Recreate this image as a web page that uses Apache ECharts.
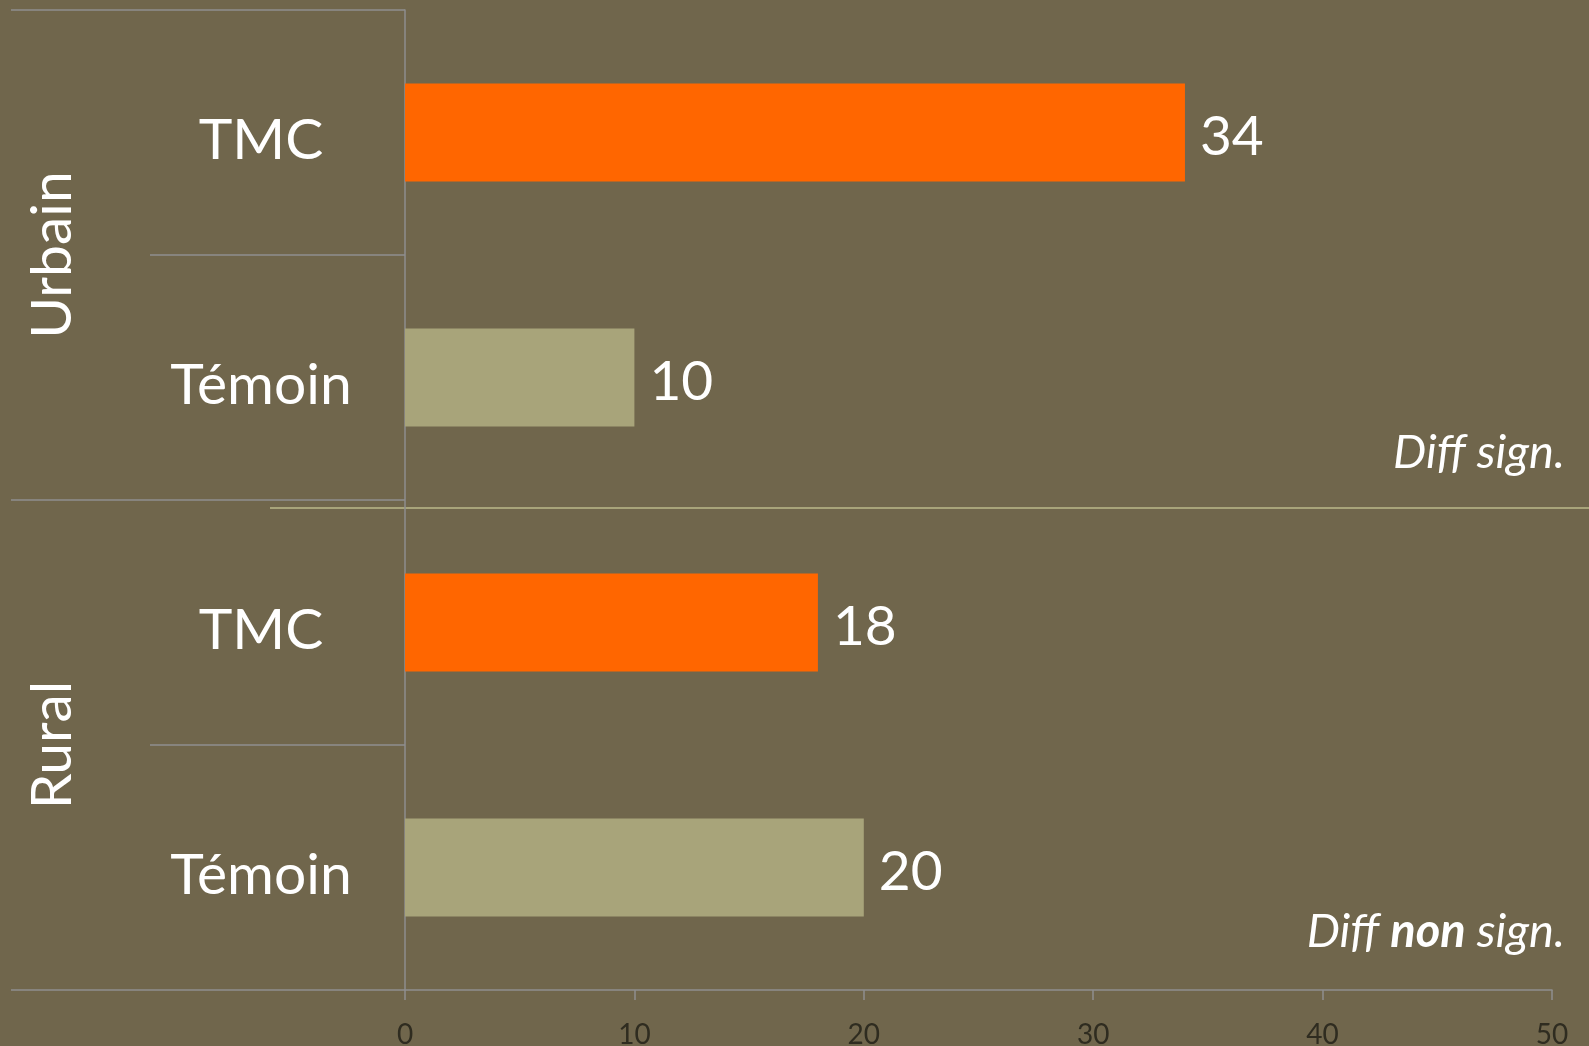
<!DOCTYPE html>
<html>
<head>
<meta charset="utf-8">
<title>TMC vs Témoin</title>
<script src="https://cdn.jsdelivr.net/npm/echarts@6/dist/echarts.min.js"></script>
<style>
  html, body { margin: 0; padding: 0; background: #70664c; }
  #main { width: 1589px; height: 1046px; }
</style>
</head>
<body>
<div id="main"></div>
<script>
// data
var categories = ['TMC', 'Témoin', 'TMC', 'Témoin'];
var groups = ['Urbain', 'Rural'];
var values = [34, 10, 18, 20];
var barColors = ['#ff6600', '#a8a47a'];
var xTicks = { min: 0, max: 50, interval: 10 };

var font = 'Lato, "Open Sans", sans-serif';
var gray = '#8e8e8e';

var chart = echarts.init(document.getElementById('main'));

var barData = values.map(function (v, i) {
  return { value: v, itemStyle: { color: barColors[i % 2] } };
});

chart.setOption({
  backgroundColor: '#70664c',
  animation: false,
  grid: { left: 405, right: 37, top: 10, bottom: 56, outerBoundsMode: 'none', containLabel: false },
  xAxis: {
    type: 'value',
    min: xTicks.min,
    max: xTicks.max,
    interval: xTicks.interval,
    splitLine: { show: false },
    axisLine: { show: true, lineStyle: { color: gray, width: 1.5 } },
    axisTick: { show: true, length: 10, lineStyle: { color: gray, width: 1.5 } },
    axisLabel: { color: '#2f2c20', fontSize: 28, fontFamily: font, margin: 31 }
  },
  yAxis: [{
    type: 'category',
    data: categories,
    inverse: true,
    axisLine: { show: true, lineStyle: { color: gray, width: 1.5 } },
    axisTick: { show: true, length: 255, lineStyle: { color: gray, width: 1.5 } },
    axisLabel: {
      align: 'center', verticalAlign: 'middle', margin: 144,
      formatter: '{c|{value}}',
      rich: {
        c: { color: '#ffffff', fontSize: 57, fontFamily: font, padding: [16, 0, 0, 0] }
      }
    }
  }, {
    type: 'category',
    data: groups,
    inverse: true,
    position: 'left',
    axisLine: { show: false },
    axisTick: { show: true, length: 394, lineStyle: { color: gray, width: 1.5 } },
    axisLabel: {
      color: '#ffffff', fontSize: 57, fontFamily: font,
      rotate: 90, align: 'center', verticalAlign: 'middle', margin: 352
    }
  }],
  series: [{
    type: 'bar',
    yAxisIndex: 0,
    data: barData,
    barWidth: '40%',
    label: {
      show: true, position: 'right', distance: 15, offset: [0, 5],
      color: '#ffffff', fontSize: 55, fontFamily: font
    }
  }],
  graphic: [{
    type: 'line',
    shape: { x1: 270, y1: 508, x2: 1589, y2: 508 },
    style: { stroke: '#a8a47a', lineWidth: 2 }
  }, {
    type: 'text',
    right: 24, top: 429,
    style: {
      text: 'Diff sign.', fill: '#ffffff', fontSize: 47,
      fontStyle: 'italic', fontFamily: font
    }
  }, {
    type: 'text',
    right: 24, top: 908,
    style: {
      text: '{i|Diff }{b|non}{i| sign.}',
      rich: {
        i: { fill: '#ffffff', fontSize: 47, fontStyle: 'italic', fontFamily: font },
        b: { fill: '#ffffff', fontSize: 47, fontStyle: 'italic', fontWeight: 'bold', fontFamily: font }
      }
    }
  }]
});
</script>
</body>
</html>
